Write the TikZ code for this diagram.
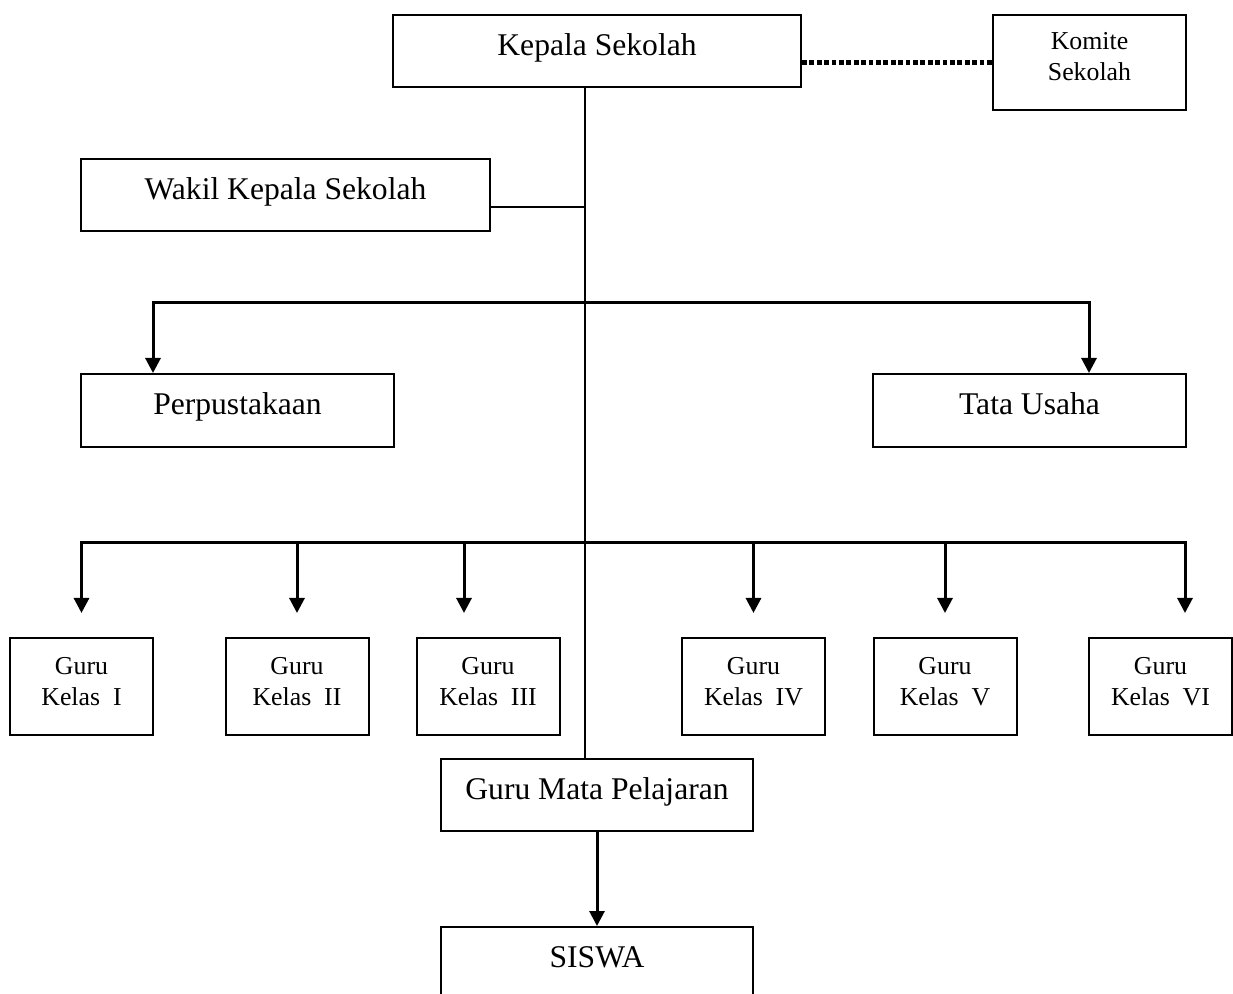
\documentclass[tikz,border=0pt]{standalone}
\usepackage{fontspec}
\setmainfont{Liberation Serif}
\usepackage{tikz}
\usetikzlibrary{positioning, calc, arrows.meta}
\tikzstyle{jabatan} = [rectangle, minimum height=36pt, inner sep=0pt, text height=8pt, text depth=3.5pt, text centered, draw=black, line width=1pt, font=\fontsize{15.8}{19}\selectfont]
\tikzstyle{kecil} = [rectangle, inner sep=0pt, text height=24.5pt, text depth=6pt, align=center, draw=black, line width=1pt, font=\fontsize{12.9}{15.5}\selectfont]
\tikzstyle{guru} = [kecil, minimum width=71.5pt, minimum height=48.5pt]
\tikzstyle{garis} = [line width=1pt]
\tikzstyle{arrow} = [-{Triangle[width=7.5pt,length=7.5pt]}, line width=1.5pt]
\tikzstyle{titik} = [line width=2.2pt, dash pattern=on 2.4pt off 1.3pt]

\begin{document}
\begin{tikzpicture}[x=0.5pt, y=-0.5pt]
  \useasboundingbox (0,0) rectangle (1233,994);
  %定义组织结构图的方框
  \node (kepala) [jabatan, minimum width=204pt] at (597,51) {Kepala Sekolah};
  \node (komite) [kecil, minimum width=96.5pt, minimum height=47.5pt] at (1089.5,62.5) {Komite\\Sekolah};
  \node (wakil) [jabatan, minimum width=204.5pt] at (285.5,195) {Wakil Kepala Sekolah};
  \node (perpus) [jabatan, minimum width=156.5pt, minimum height=36.5pt] at (237.5,410.5) {Perpustakaan};
  \node (tu) [jabatan, minimum width=156.5pt, minimum height=36.5pt] at (1029.5,410.5) {Tata Usaha};
  \node (g1) [guru] at (81.5,686.5) {Guru\\Kelas\ \ I};
  \node (g2) [guru] at (297,686.5) {Guru\\Kelas\ \ II};
  \node (g3) [guru] at (488,686.5) {Guru\\Kelas\ \ III};
  \node (g4) [guru] at (753.5,686.5) {Guru\\Kelas\ \ IV};
  \node (g5) [guru] at (945,686.5) {Guru\\Kelas\ \ V};
  \node (g6) [guru] at (1160.5,686.5) {Guru\\Kelas\ \ VI};
  \node (mapel) [jabatan, minimum width=156pt] at (597,795) {Guru Mata Pelajaran};
  \node (siswa) [jabatan, minimum width=156pt] at (597,963) {SISWA};
  \coordinate (t1) at (585,207);
  \coordinate (t2) at (585,302.5);
  \coordinate (t3) at (585,543);

  %连接各个方框
  \draw [titik](komite.west -| kepala.east) -- (komite.west);
  \draw [garis](kepala.south -| t1) -- (mapel.north -| t1);
  \draw [garis](wakil.east |- t1) -- (t1);
  \draw [arrow](t2) -| ($(perpus.north) + (-84.5,0)$);
  \draw [arrow](t2) -| ($(tu.north) + (59.5,0)$);
  \draw [arrow](t3) -| ($(g1.north) + (0,-24)$);
  \draw [arrow](t3) -| ($(g2.north) + (0,-24)$);
  \draw [arrow](t3) -| ($(g3.north) + (-24,-24)$);
  \draw [arrow](t3) -| ($(g4.north) + (0,-24)$);
  \draw [arrow](t3) -| ($(g5.north) + (0,-24)$);
  \draw [arrow](t3) -| ($(g6.north) + (24.5,-24)$);
  \draw [arrow](mapel) -- (siswa);
\end{tikzpicture}
\end{document}
